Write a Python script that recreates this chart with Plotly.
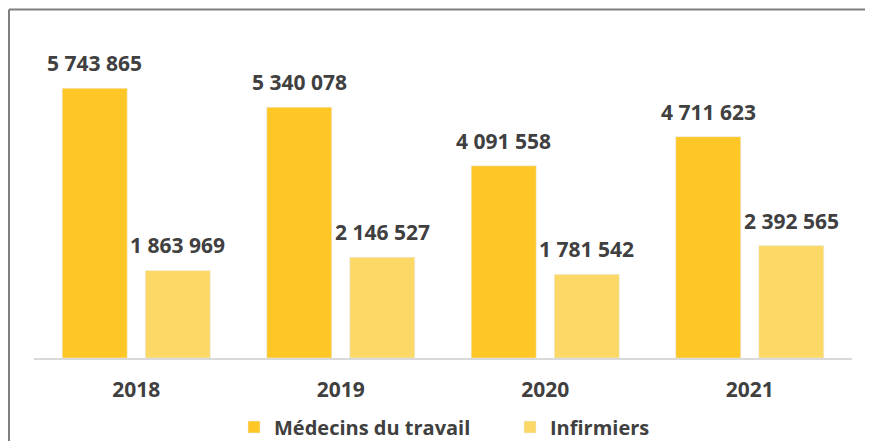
import plotly.graph_objects as go

years = ["2018", "2019", "2020", "2021"]
medecins = [5743865, 5340078, 4091558, 4711623]
infirmiers = [1863969, 2146527, 1781542, 2392565]

txt = "#404040"
font_main = "Open Sans"

fig = go.Figure()
fig.add_trace(go.Bar(x=years, y=medecins, name="<b>Médecins du travail</b>",
                     marker_color="#FFC726"))
fig.add_trace(go.Bar(x=years, y=infirmiers, name="<b>Infirmiers</b>",
                     marker_color="#FCD966"))

# page body has an 8px margin, so the figure is drawn 8px in from the window
W, H = 865, 441
ml, mr, mt, mb = 26, 21, 40, 91
pw, ph = W - ml - mr, H - mt - mb
bargap = 0.188
half = pw / len(years) * (1 - bargap) / 4   # offset of each bar centre

# value labels above the bars (x given as category index)
for vals, dx in ((medecins, -half), (infirmiers, half)):
    for i, v in enumerate(vals):
        fig.add_annotation(x=i, y=v, text="<b>%s</b>" % format(v, ",").replace(",", " "),
                           showarrow=False, xshift=dx, yshift=9, yanchor="bottom",
                           font=dict(size=21, color=txt))

# grey frame: only the top and left edges are visible in the original
fx0 = (1 - ml) / pw
fx1 = (W + 40 - ml) / pw
fy0 = -(mb + 40) / ph
fy1 = (H - mb - 1.5) / ph
frame = dict(color="#7F7F7F", width=2)
fig.add_shape(type="line", xref="paper", yref="paper", x0=fx0, x1=fx1, y0=fy1, y1=fy1,
              line=frame, layer="below")
fig.add_shape(type="line", xref="paper", yref="paper", x0=fx0, x1=fx0, y0=fy0, y1=fy1,
              line=frame, layer="below")

fig.update_layout(
    width=W, height=H,
    margin=dict(l=ml, r=mr, t=mt, b=mb, autoexpand=False),
    paper_bgcolor="white", plot_bgcolor="white",
    barmode="group", bargap=bargap, bargroupgap=0.217,
    font=dict(family=font_main, color=txt),
    showlegend=True,
    legend=dict(orientation="h", x=(226 - ml) / pw, xanchor="left",
                y=(350 - 419) / ph, yanchor="middle",
                font=dict(size=20, color=txt), itemwidth=30, traceorder="normal",
                entrywidth=231),
    xaxis=dict(type="category", range=[-0.5, len(years) - 0.5],
               showline=True, linecolor="#D9D9D9", linewidth=2, ticks="",
               tickfont=dict(size=21, color=txt), ticklabelstandoff=12,
               tickvals=years, ticktext=["<b>%s</b>" % y for y in years]),
    yaxis=dict(visible=False, range=[0, 6.6e6], showgrid=False, zeroline=False),
)

fig.write_html("out.html")
